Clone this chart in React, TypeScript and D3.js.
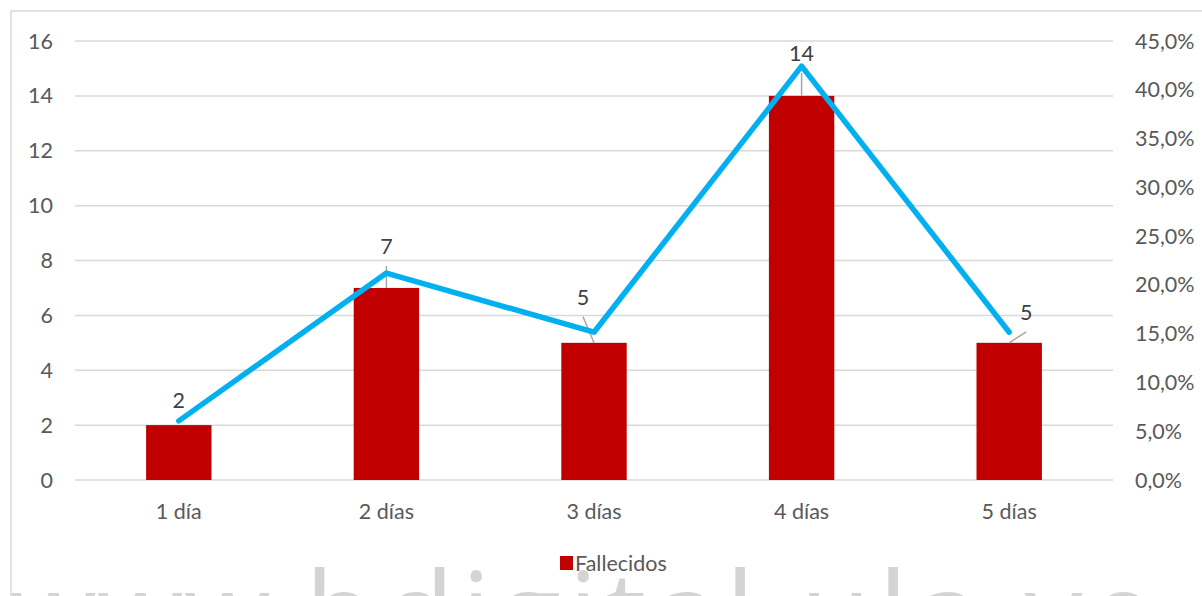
import React from "react";
import * as d3 from "d3";

const categories = ["1 día", "2 días", "3 días", "4 días", "5 días"];
const fallecidos = [2, 7, 5, 14, 5];
const porcentaje = [6.06, 21.21, 15.15, 42.42, 15.15];
const leftTicks = [0, 2, 4, 6, 8, 10, 12, 14, 16];
const rightTicks = [0, 5, 10, 15, 20, 25, 30, 35, 40, 45];
const legendLabel = "Fallecidos";
const watermarkParts = ["www.", "bdigital.ula.ve"];

// label placement offsets (layout only)
const labelOffsets = [
  { dx: 0, dy: -25 },
  { dx: 0, dy: -41 },
  { dx: -11, dy: -45 },
  { dx: 0, dy: -42 },
  { dx: 17, dy: -30 },
];

const W = 1202;
const H = 596;
const FONT = "Lato, 'Open Sans', sans-serif";
const FS = 21.5;

export default function App() {
  const x = d3.scaleBand<string>().domain(categories).range([75, 1113]).paddingInner(0).paddingOuter(0);
  const barW = x.bandwidth() * 0.315;
  const yL = d3.scaleLinear().domain([0, 16]).range([480, 41]);
  const yR = d3.scaleLinear().domain([0, 45]).range([480, 41]);
  const cx = (c: string) => (x(c) as number) + x.bandwidth() / 2;

  const line = d3
    .line<number>()
    .x((_, i) => cx(categories[i]))
    .y((d) => yR(d));

  const fmtPct = (v: number) => v.toFixed(1).replace(".", ",") + "%";

  return (
    <div style={{ position: "absolute", left: 0, top: 0 }}>
      <svg width={W} height={H} style={{ display: "block" }} fontFamily={FONT}>
        <rect x={0} y={0} width={W} height={H} fill="#fff" />
        <rect x={11} y={11} width={W} height={H} fill="none" stroke="#d9d9d9" strokeWidth={1.5} />
        {/* watermark */}
        <g fontSize={116} fontFamily="'Open Sans', sans-serif" fill="#d4d4d4">
          <text x={10} y={655} textLength={290} lengthAdjust="spacingAndGlyphs">
            {watermarkParts[0]}
          </text>
          <text x={305} y={655} textLength={850} lengthAdjust="spacing">
            {watermarkParts[1]}
          </text>
        </g>
        {/* gridlines */}
        {leftTicks.map((t) => (
          <line key={t} x1={75} x2={1113} y1={yL(t)} y2={yL(t)} stroke="#d9d9d9" strokeWidth={1.5} />
        ))}
        {/* left axis labels */}
        {leftTicks.map((t) => (
          <text key={"l" + t} x={53} y={yL(t)} dy="0.35em" textAnchor="end" fontSize={FS} fill="#595959">
            {t}
          </text>
        ))}
        {/* right axis labels */}
        {rightTicks.map((t) => (
          <text key={"r" + t} x={1135} y={yR(t)} dy="0.35em" textAnchor="start" fontSize={FS} fill="#595959">
            {fmtPct(t)}
          </text>
        ))}
        {/* category labels */}
        {categories.map((c) => (
          <text key={c} x={cx(c)} y={511} dy="0.35em" textAnchor="middle" fontSize={FS} fill="#595959">
            {c}
          </text>
        ))}
        {/* bars */}
        {fallecidos.map((v, i) => (
          <rect
            key={i}
            x={cx(categories[i]) - barW / 2}
            y={yL(v)}
            width={barW}
            height={yL(0) - yL(v)}
            fill="#c00000"
          />
        ))}
        {/* leader lines */}
        {fallecidos.map((v, i) => {
          const bx = cx(categories[i]);
          const by = yL(v);
          const lx = bx + labelOffsets[i].dx;
          const ly = by + labelOffsets[i].dy + 19;
          if (i === 0) return null;
          return <line key={"ld" + i} x1={lx} y1={ly} x2={bx} y2={by} stroke="#a6a6a6" strokeWidth={1.5} />;
        })}
        {/* line series */}
        <path
          d={line(porcentaje) as string}
          fill="none"
          stroke="#00b0f0"
          strokeWidth={5.5}
          strokeLinecap="round"
          strokeLinejoin="round"
        />
        {/* data labels */}
        {fallecidos.map((v, i) => (
          <text
            key={"dl" + i}
            x={cx(categories[i]) + labelOffsets[i].dx}
            y={yL(v) + labelOffsets[i].dy}
            dy="0.35em"
            textAnchor="middle"
            fontSize={FS}
            fill="#404040"
          >
            {v}
          </text>
        ))}
        {/* legend */}
        <rect x={560} y={556} width={13} height={14} fill="#c00000" />
        <text x={575} y={563} dy="0.35em" fontSize={FS} fill="#595959">
          {legendLabel}
        </text>
      </svg>
    </div>
  );
}
